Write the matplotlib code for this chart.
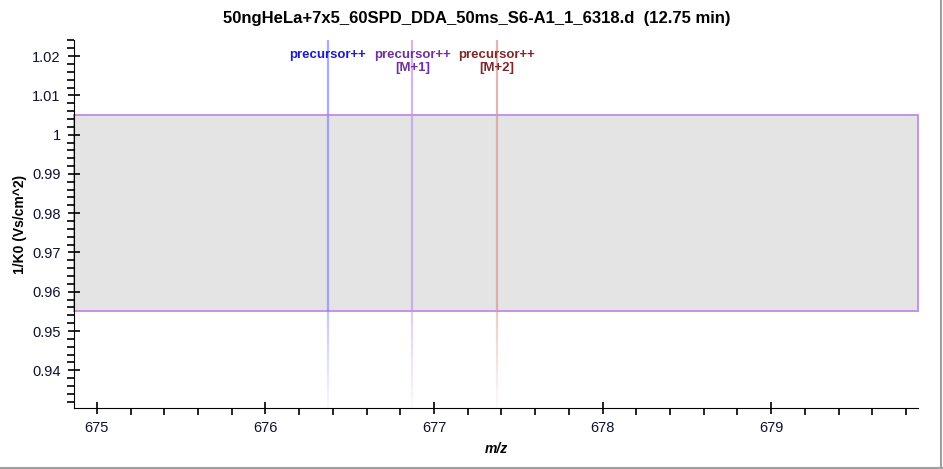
import numpy as np
import matplotlib
matplotlib.use("Agg")
import matplotlib.pyplot as plt
from matplotlib.ticker import MultipleLocator, FuncFormatter
from matplotlib.patches import Rectangle

plt.rcParams['font.family'] = ['Liberation Sans', 'DejaVu Sans']

title = "50ngHeLa+7x5_60SPD_DDA_50ms_S6-A1_1_6318.d  (12.75 min)"
# precursor isotope positions (m/z)
peak_mz = [676.370, 676.872, 677.373]
peak_labels = ["precursor++", "precursor++\n[M+1]", "precursor++\n[M+2]"]
text_colors = ["#1c1cc8", "#7030a0", "#802828"]
line_colors = ["#8c8cff", "#c09cf0", "#d49c9c"]
# isolation window in mobility
mob_low, mob_high = 0.955, 1.005

xlim = (674.864, 679.871)
ylim = (0.9304, 1.0241)

fig = plt.figure(figsize=(9.43, 4.69), dpi=100)
ax = fig.add_axes([74 / 943, 61 / 469, 844 / 943, 368 / 469])
ax.set_xlim(*xlim)
ax.set_ylim(*ylim)

# mobility window box
ax.add_patch(Rectangle((xlim[0], mob_low), xlim[1] - xlim[0], mob_high - mob_low,
                       facecolor="#e4e4e4", edgecolor="#c890ea", lw=1.4, zorder=1,
                       clip_on=False))

# precursor lines, fading out below the window
for mz, c in zip(peak_mz, line_colors):
    ax.plot([mz, mz], [mob_low, ylim[1]], color=c, lw=1.6, alpha=0.75, zorder=2)
    ys = np.linspace(mob_low, ylim[0], 30)
    for i in range(len(ys) - 1):
        a = 0.45 * (1 - i / (len(ys) - 1)) + 0.05
        ax.plot([mz, mz], [ys[i], ys[i + 1]], color=c, lw=1.6, alpha=a, zorder=2,
                solid_capstyle='butt')

for mz, lab, c in zip(peak_mz, peak_labels, text_colors):
    ax.text(mz, 1.0219, lab, color=c, ha='center', va='top', fontsize=9.5,
            fontweight='bold', linespacing=1.2, zorder=3)

ax.spines['top'].set_visible(False)
ax.spines['right'].set_visible(False)
ax.xaxis.set_major_locator(MultipleLocator(1))
ax.xaxis.set_minor_locator(MultipleLocator(0.2))
ax.yaxis.set_major_locator(MultipleLocator(0.01))
ax.yaxis.set_minor_locator(MultipleLocator(0.002))
ax.yaxis.set_major_formatter(FuncFormatter(lambda v, p: "{:g}".format(round(v, 3))))
ax.tick_params(which='major', direction='inout', length=9, width=1.2,
               labelsize=10.5, labelcolor="#101030", pad=5)
ax.tick_params(which='minor', direction='out', length=5, width=1.2)

ax.set_xlabel("m/z", fontsize=10, fontweight='bold', style='italic', labelpad=5)
ax.set_ylabel("1/K0 (Vs/cm^2)", fontsize=10, fontweight='bold', labelpad=4)
fig.text(477 / 943, 1 - 19 / 469, title, ha='center', va='center',
         fontsize=12, fontweight='bold')

# window frame lines on right and bottom
fig.add_artist(plt.Line2D([941 / 943, 941 / 943], [0, 1], color="#a0a0a0", lw=1.5))
fig.add_artist(plt.Line2D([0, 1], [1 / 469, 1 / 469], color="#a0a0a0", lw=1.5))

fig.savefig("out.png", dpi=100)
